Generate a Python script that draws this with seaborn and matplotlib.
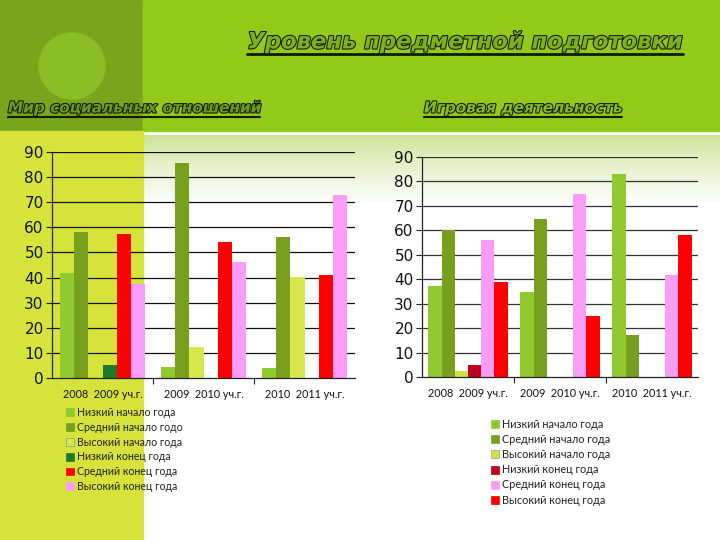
import numpy as np
import pandas as pd
import matplotlib
matplotlib.use("Agg")
import matplotlib.pyplot as plt
import seaborn as sns
from matplotlib.patches import Rectangle, Circle, Patch
from matplotlib.lines import Line2D
import matplotlib.patheffects as pe

# ---------------- data ----------------
groups = ["2008  2009 уч.г.", "2009  2010 уч.г.", "2010  2011 уч.г."]

left_series = ["Низкий начало года", "Средний начало годо", "Высокий начало года",
               "Низкий конец года", "Средний конец года", "Высокий конец года"]
left_low_start = [42, 4.3, 4]
left_mid_start = [58, 85.5, 56.3]
left_high_start = [0, 12.4, 40.2]
left_low_end = [5, 0, 0]
left_mid_end = [57.5, 54, 41]
left_high_end = [37.5, 46.3, 73]

right_series = ["Низкий начало года", "Средний начало года", "Высокий начало года",
                "Низкий конец года", "Средний конец года", "Высокий конец года"]
right_low_start = [37.3, 34.7, 83]
right_mid_start = [60.2, 64.8, 17.1]
right_high_start = [2.5, 0, 0]
right_low_end = [4.8, 0, 0]
right_mid_end = [56.1, 75, 41.7]
right_high_end = [38.9, 24.9, 58.1]

left_colors = ["#8fcb2f", "#789f1e", "#d9e64c", "#1d7a2b", "#ff0000", "#fa9cf8"]
right_colors = ["#8fcb2f", "#789f1e", "#d4e04a", "#c0001c", "#fa9cf8", "#ff0000"]

title = "Уровень предметной подготовки"
sub_left = "Мир социальных отношений"
sub_right = "Игровая деятельность"


def make_df(series, cols):
    rows = []
    for s, vals in zip(series, cols):
        for g, v in zip(groups, vals):
            rows.append({"group": g, "series": s, "value": v})
    return pd.DataFrame(rows)


df_left = make_df(left_series, [left_low_start, left_mid_start, left_high_start,
                                left_low_end, left_mid_end, left_high_end])
df_right = make_df(right_series, [right_low_start, right_mid_start, right_high_start,
                                  right_low_end, right_mid_end, right_high_end])

sns.set_theme(style="white")
plt.rcParams["font.family"] = ["DejaVu Sans"]

W, H = 720, 540
fig = plt.figure(figsize=(7.2, 5.4), dpi=100)
fig.patch.set_facecolor("white")

# ---------------- background ----------------
bg = fig.add_axes([0, 0, 1, 1], zorder=-10)
bg.set_xlim(0, W)
bg.set_ylim(H, 0)
bg.axis("off")
grad = np.linspace(0, 1, 100).reshape(-1, 1) ** 0.8
top_rgb = np.array([0.80, 0.89, 0.58])
img = top_rgb[None, None, :] * (1 - grad[:, :, None]) + np.ones(3)[None, None, :] * grad[:, :, None]
img = np.clip(img, 0, 1)
bg.imshow(img, extent=[143, W, 205, 135], aspect="auto", zorder=0)
bg.add_patch(Rectangle((0, 0), 143, 131, color="#79a51c", zorder=1))
bg.add_patch(Rectangle((143, 0), W - 143, 131, color="#93c919", zorder=1))
bg.add_patch(Rectangle((0, 131), 143, H - 131, color="#d5e33a", zorder=1))
bg.add_patch(Circle((72, 66), 33, color="#8bbd25", zorder=2))


# ---------------- charts ----------------
def draw_chart(rect, df, series, colors, gridcolor, width):
    ax = fig.add_axes(rect)
    ax.patch.set_alpha(0)
    sns.barplot(data=df, x="group", y="value", hue="series", hue_order=series,
                order=groups, palette=colors, saturation=1, width=width, gap=0,
                ax=ax, legend=False, errorbar=None, edgecolor="none")
    ax.set_ylim(0, 90)
    ax.set_xlim(-0.5, 2.5)
    ax.set_yticks(range(0, 91, 10))
    ax.set_xlabel("")
    ax.set_ylabel("")
    for y in range(10, 91, 10):
        ax.axhline(y, color=gridcolor, lw=0.9, zorder=0)
    for s in ["top", "right"]:
        ax.spines[s].set_visible(False)
    ax.spines["left"].set_color("#222222")
    ax.spines["bottom"].set_color("#222222")
    ax.spines["left"].set_linewidth(0.9)
    ax.spines["bottom"].set_linewidth(0.9)
    ax.tick_params(axis="y", left=True, length=4, width=0.8, color="#222222",
                   labelsize=11, pad=2, labelcolor="#111111")
    ax.tick_params(axis="x", which="major", bottom=False, labelsize=7.8, pad=2,
                   labelcolor="#111111")
    for lab in ax.get_xticklabels():
        lab.set_fontfamily(["Lato", "DejaVu Sans"])
    ax.set_xticks([0.5, 1.5], minor=True)
    ax.tick_params(axis="x", which="minor", bottom=True, length=4, width=0.8,
                   color="#222222")
    return ax


ax1 = draw_chart([52 / W, 1 - 378 / H, 303 / W, 226 / H], df_left, left_series,
                 left_colors, "#111111", 0.85)
ax2 = draw_chart([422 / W, 1 - 377 / H, 276 / W, 220 / H], df_right, right_series,
                 right_colors, "#333333", 0.86)


# ---------------- legends ----------------
def add_legend(series, colors, x, y, spacing, size):
    handles = [Patch(facecolor=c, edgecolor="#9a9a9a" if i == 2 else c, linewidth=0.5)
               for i, c in enumerate(colors)]
    leg = fig.legend(handles, series, loc="upper left",
                     bbox_to_anchor=(x / W, 1 - y / H), frameon=False,
                     prop={"family": ["Lato", "DejaVu Sans"], "size": size},
                     handlelength=0.75, handleheight=0.75, handletextpad=0.3,
                     labelspacing=spacing, borderaxespad=0, borderpad=0)
    for t in leg.get_texts():
        t.set_color("#222222")
    return leg


add_legend(left_series, left_colors, 66, 407, 0.36, 7.6)
add_legend(right_series, right_colors, 491, 419, 0.38, 7.8)

# ---------------- titles ----------------
stroke = [pe.withStroke(linewidth=1.5, foreground="#0d1a00")]
t1 = fig.text(465 / W, 1 - 42 / H, title, ha="center", va="center", fontsize=16.3,
              fontweight="bold", fontstyle="italic", color="#7fb01a", path_effects=stroke)
t2 = fig.text(8 / W, 1 - 108 / H, sub_left, ha="left", va="center", fontsize=11,
              fontweight="bold", fontstyle="italic", color="#6f9a18", path_effects=stroke)
t3 = fig.text(424 / W, 1 - 108 / H, sub_right, ha="left", va="center", fontsize=11,
              fontweight="bold", fontstyle="italic", color="#86bb18", path_effects=stroke)

fig.canvas.draw()
r = fig.canvas.get_renderer()
for t, lw in [(t1, 2.0), (t2, 1.5), (t3, 1.5)]:
    bb = t.get_window_extent(r)
    yb = bb.y0 - 1
    fig.add_artist(Line2D([bb.x0 / W, bb.x1 / W], [yb / H, yb / H],
                          transform=fig.transFigure, color="#0d1a00", lw=lw))

fig.savefig("out.png", dpi=100)
